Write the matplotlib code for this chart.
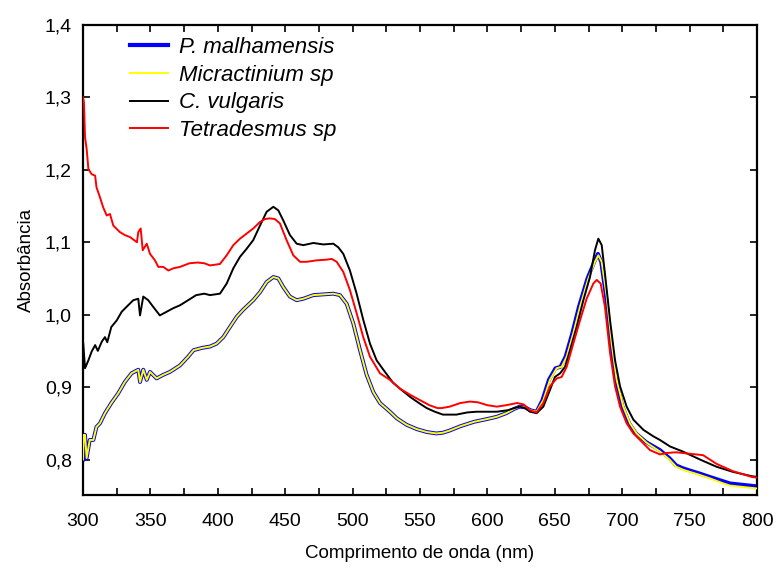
import matplotlib
matplotlib.use("Agg")
import matplotlib.pyplot as plt
from matplotlib.ticker import MultipleLocator, FuncFormatter

plt.rcParams['font.family'] = ['Liberation Sans', 'DejaVu Sans']

# Tetradesmus sp (red)
wl_r = [300, 300.7, 301.5, 302.7, 304, 306.4, 309, 310, 312.6, 315, 317.6, 320, 322.5, 327.4, 331, 335,
        340, 341, 342.8, 344.3, 347.3, 349.7, 353.4, 355.9, 359.6, 363.3, 367, 372, 379, 385, 390, 394.2,
        401.6, 406.6, 411.5, 416.5, 421.4, 426.3, 431.3, 435, 438.5, 442.4, 446.1, 451, 456, 461, 465.9,
        473.3, 480.8, 484.5, 488.2, 493.1, 498, 503, 507.9, 512.9, 520.3, 527.7, 535, 543, 550, 557, 563,
        566, 572, 580, 587, 593, 600, 607, 614, 622, 627, 631.6, 636.5, 641.5, 646.4, 651.4, 655.1, 658.8,
        663.7, 668.7, 673.6, 678.6, 681.1, 684, 687.2, 691, 694.7, 698.4, 703.3, 708.3, 713.2, 720.6, 728,
        733, 740, 750, 760, 765, 770, 782, 796, 800]
ab_r = [1.300, 1.293, 1.245, 1.229, 1.201, 1.194, 1.192, 1.176, 1.162, 1.148, 1.137, 1.139, 1.123, 1.114,
        1.110, 1.107, 1.100, 1.114, 1.119, 1.089, 1.098, 1.084, 1.075, 1.066, 1.066, 1.061, 1.064, 1.066,
        1.071, 1.072, 1.071, 1.068, 1.070, 1.082, 1.096, 1.105, 1.112, 1.119, 1.128, 1.132, 1.133, 1.132,
        1.126, 1.103, 1.082, 1.073, 1.073, 1.075, 1.076, 1.077, 1.073, 1.059, 1.034, 1.002, 0.969, 0.942,
        0.919, 0.910, 0.898, 0.889, 0.882, 0.875, 0.871, 0.871, 0.873, 0.878, 0.880, 0.879, 0.875, 0.873,
        0.875, 0.878, 0.876, 0.868, 0.865, 0.878, 0.901, 0.912, 0.914, 0.928, 0.960, 0.992, 1.022, 1.043,
        1.048, 1.043, 1.011, 0.947, 0.901, 0.873, 0.850, 0.836, 0.827, 0.813, 0.807, 0.809, 0.810, 0.808,
        0.806, 0.800, 0.794, 0.784, 0.776, 0.775]

# C. vulgaris (black)
wl_k = [300, 300.2, 301.5, 304, 306.4, 309, 311, 314, 316.3, 318, 321, 325, 328.7, 332.4, 337.3, 341,
        342.3, 344.7, 348.4, 352, 357, 362, 367, 372, 378, 384, 390, 394.2, 401.6, 406.6, 411.5, 416.5,
        421.4, 426.3, 431.3, 436.2, 441.2, 444.9, 448.6, 453.5, 458.5, 463.4, 470.9, 478.3, 485.7, 489.4,
        493.1, 498, 503, 507.9, 512.9, 517.8, 522.8, 530, 537, 543, 550, 555, 561, 567, 577, 585, 592, 607,
        615, 620, 624, 628, 631.6, 636.5, 641.5, 646.4, 650.1, 653.9, 657.6, 661.3, 666.2, 671.2, 676.1,
        679.8, 682.3, 684.8, 687.2, 691, 694.7, 698.4, 703.3, 708.3, 715.7, 723.1, 728, 735.5, 745, 757.7,
        770, 782, 796, 800]
ab_k = [0.963, 0.960, 0.926, 0.937, 0.949, 0.958, 0.950, 0.963, 0.969, 0.962, 0.983, 0.992, 1.004, 1.011,
        1.020, 1.022, 0.999, 1.025, 1.020, 1.011, 0.999, 1.004, 1.009, 1.013, 1.020, 1.027, 1.029, 1.027,
        1.029, 1.043, 1.064, 1.080, 1.091, 1.103, 1.123, 1.142, 1.149, 1.144, 1.130, 1.110, 1.098, 1.096,
        1.099, 1.097, 1.098, 1.093, 1.084, 1.061, 1.029, 0.993, 0.960, 0.937, 0.924, 0.906, 0.895, 0.886,
        0.877, 0.871, 0.866, 0.862, 0.862, 0.865, 0.866, 0.866, 0.868, 0.871, 0.873, 0.871, 0.866, 0.864,
        0.873, 0.896, 0.914, 0.919, 0.928, 0.951, 0.983, 1.020, 1.052, 1.089, 1.105, 1.096, 1.057, 0.992,
        0.937, 0.901, 0.873, 0.855, 0.841, 0.832, 0.827, 0.818, 0.811, 0.800, 0.790, 0.783, 0.777, 0.776]

# Micractinium sp (yellow)
wl_y = [300, 300.5, 301.5, 302.7, 305, 307.7, 310, 312.6, 316.3, 321, 326, 331, 336, 341, 342.3, 344.7,
        347.3, 349.7, 354.6, 359.6, 364.5, 372, 378, 382, 388, 394.2, 399.1, 404.1, 409, 414, 418.9, 426.3,
        431.3, 436.2, 441.2, 444.9, 448.6, 453.5, 458.5, 463.4, 470.9, 478.3, 485.7, 490.6, 495.6, 500.5,
        505.5, 510.4, 515.4, 520.3, 527.7, 532.7, 540, 547.5, 555, 562, 567, 572, 580, 590, 600, 607, 614,
        620, 624, 628, 632, 636.5, 641.5, 646.4, 651.4, 655.1, 658.8, 663.7, 668.7, 674.9, 679.8, 682.3,
        684.8, 688.5, 692.2, 695.9, 700.8, 705.8, 710.7, 718.2, 728, 735, 740, 745, 750, 757, 765, 775,
        780, 790, 800]
ab_y = [0.800, 0.834, 0.834, 0.802, 0.827, 0.827, 0.845, 0.850, 0.864, 0.878, 0.891, 0.907, 0.919, 0.924,
        0.907, 0.924, 0.910, 0.921, 0.912, 0.917, 0.921, 0.930, 0.942, 0.951, 0.954, 0.956, 0.960, 0.969,
        0.983, 0.997, 1.007, 1.020, 1.031, 1.045, 1.052, 1.050, 1.038, 1.025, 1.020, 1.022, 1.027, 1.028,
        1.029, 1.027, 1.015, 0.988, 0.951, 0.917, 0.893, 0.878, 0.866, 0.857, 0.848, 0.842, 0.838, 0.836,
        0.837, 0.840, 0.846, 0.852, 0.856, 0.859, 0.864, 0.870, 0.873, 0.872, 0.868, 0.866, 0.882, 0.910,
        0.926, 0.928, 0.942, 0.974, 1.011, 1.050, 1.073, 1.082, 1.073, 1.025, 0.960, 0.910, 0.873, 0.850,
        0.836, 0.823, 0.811, 0.800, 0.790, 0.786, 0.783, 0.779, 0.774, 0.767, 0.764, 0.762, 0.760]

# P. malhamensis (blue)
wl_b = [300, 300.5, 301.5, 302.7, 305, 307.7, 310, 312.6, 316.3, 321, 326, 331, 336, 341, 342.3, 344.7,
        347.3, 349.7, 354.6, 359.6, 364.5, 372, 378, 382, 388, 394.2, 399.1, 404.1, 409, 414, 418.9, 426.3,
        431.3, 436.2, 441.2, 444.9, 448.6, 453.5, 458.5, 463.4, 470.9, 478.3, 485.7, 490.6, 495.6, 500.5,
        505.5, 510.4, 515.4, 520.3, 527.7, 532.7, 540, 547.5, 555, 562, 567, 572, 580, 590, 600, 607, 614,
        620, 624, 628, 632, 636.5, 640.8, 645.6, 650.5, 654.2, 658.0, 662.9, 667.9, 674.2, 679.3, 682.0,
        684.4, 688.0, 691.6, 695.3, 700.2, 705.2, 710.2, 717.8, 728, 735, 740, 745, 750, 757, 765, 775,
        780, 790, 800]
ab_b = [0.800, 0.834, 0.834, 0.802, 0.827, 0.827, 0.845, 0.850, 0.864, 0.878, 0.891, 0.907, 0.919, 0.924,
        0.907, 0.924, 0.910, 0.921, 0.912, 0.917, 0.921, 0.930, 0.942, 0.951, 0.954, 0.956, 0.960, 0.969,
        0.983, 0.997, 1.007, 1.020, 1.031, 1.045, 1.052, 1.050, 1.038, 1.025, 1.020, 1.022, 1.027, 1.028,
        1.029, 1.027, 1.015, 0.988, 0.951, 0.917, 0.893, 0.878, 0.866, 0.857, 0.848, 0.842, 0.838, 0.836,
        0.837, 0.840, 0.846, 0.852, 0.856, 0.859, 0.864, 0.870, 0.873, 0.872, 0.868, 0.866, 0.882, 0.910,
        0.926, 0.928, 0.942, 0.974, 1.011, 1.050, 1.073, 1.084, 1.073, 1.025, 0.960, 0.910, 0.873, 0.850,
        0.836, 0.824, 0.813, 0.802, 0.792, 0.788, 0.785, 0.781, 0.776, 0.770, 0.767, 0.765, 0.763]

x_ticks = [300, 350, 400, 450, 500, 550, 600, 650, 700, 750, 800]
y_ticks = [0.8, 0.9, 1.0, 1.1, 1.2, 1.3, 1.4]

fig = plt.figure(figsize=(7.73, 5.68), dpi=100)
ax = fig.add_axes([83/773, 73/568, 674/773, 470/568])

ax.plot(wl_b, ab_b, color='#0000ff', lw=2.8, label='P. malhamensis', zorder=2, solid_joinstyle='round')
ax.plot(wl_y, ab_y, color='#ffff00', lw=1.4, label='Micractinium sp', zorder=3, solid_joinstyle='round')
ax.plot(wl_k, ab_k, color='black', lw=1.4, label='C. vulgaris', zorder=4, solid_joinstyle='round')
ax.plot(wl_r, ab_r, color='#ff0000', lw=1.4, label='Tetradesmus sp', zorder=5, solid_joinstyle='round')

ax.set_xlim(300, 800)
ax.set_ylim(0.751, 1.4)
ax.set_xticks(x_ticks)
ax.set_yticks(y_ticks)
ax.xaxis.set_minor_locator(MultipleLocator(25))
ax.yaxis.set_major_formatter(FuncFormatter(lambda v, p: f"{v:.1f}".replace('.', ',')))
ax.tick_params(which='both', direction='in', top=True, right=True, labelsize=14, width=1.2, length=5)
ax.tick_params(axis='x', which='both', pad=13)
ax.tick_params(axis='y', which='both', pad=8)
for s in ax.spines.values():
    s.set_linewidth(1.6)

ax.set_xlabel('Comprimento de onda (nm)', fontsize=13.5, labelpad=11)
ax.set_ylabel('Absorbância', fontsize=13.5, labelpad=7)

leg = ax.legend(loc='upper left', bbox_to_anchor=(0.04, 1.017), frameon=False,
                prop={'style': 'italic', 'size': 16}, handlelength=1.7, handletextpad=0.5,
                labelspacing=0.3)
leg.get_lines()[0].set_linewidth(3.0)

fig.savefig('out.png', dpi=100)
